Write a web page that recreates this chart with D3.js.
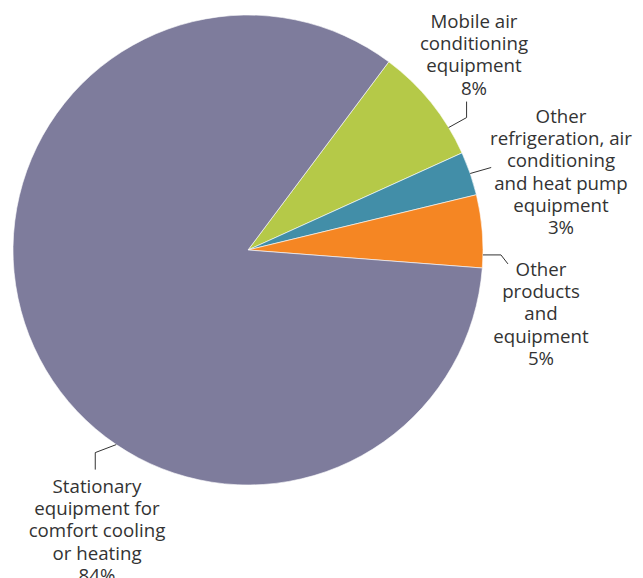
<!DOCTYPE html>
<meta charset="utf-8">
<style>
body { margin: 0; background: #fff; }
text {
  font-family: "Open Sans", sans-serif;
  font-size: 18.7px;
  fill: #333;
}
.leader { fill: none; stroke: #333; stroke-width: 1px; }
</style>
<body>
<script src="https://cdn.jsdelivr.net/npm/d3@7"></script>
<script>
// data
var categories = [
  "Mobile air conditioning equipment",
  "Other refrigeration, air conditioning and heat pump equipment",
  "Other products and equipment",
  "Stationary equipment for comfort cooling or heating"
];
var values = [8, 3, 5, 84];
var labelLines = [
  ["Mobile air", "conditioning", "equipment", "8%"],
  ["Other", "refrigeration, air", "conditioning", "and heat pump", "equipment", "3%"],
  ["Other", "products", "and", "equipment", "5%"],
  ["Stationary", "equipment for", "comfort cooling", "or heating", "84%"]
];
var colors = ["#b5c948", "#428ea8", "#f58623", "#7e7c9c"];

// layout of labels: where the leader leaves the pie (degrees clockwise from top),
// then the bend points relative to that, and where the text block sits
var layout = [
  {angle: 58.6, pts: [[18, -10], [18, -26]], tx: 474, ty: 28},
  {angle: 71, pts: [[21, -6]], tx: 561, ty: 123},
  {angle: 91.2, pts: [[18, 0], [25, 9]], tx: 541, ty: 276},
  {angle: 214.1, pts: [[-21, 8], [-21, 25]], tx: 97, ty: 493}
];

var width = 643, height = 578;
var cx = 248, cy = 250, radius = 235;
var start = 36.8 * Math.PI / 180;

var svg = d3.select("body").append("svg")
  .attr("width", width)
  .attr("height", height);

var pie = d3.pie().sort(null)
  .startAngle(start)
  .endAngle(start + 2 * Math.PI);

var arc = d3.arc().innerRadius(0).outerRadius(radius);

var g = svg.append("g").attr("transform", "translate(" + cx + "," + cy + ")");

g.selectAll("path")
  .data(pie(values))
  .enter()
  .append("path")
  .attr("d", arc)
  .style("fill", function(d, i) { return colors[i]; })
  .style("stroke", "#fff")
  .style("stroke-width", 0.6);

// leader lines
layout.forEach(function(l, i) {
  var a = l.angle * Math.PI / 180;
  var x0 = cx + radius * Math.sin(a), y0 = cy - radius * Math.cos(a);
  var pts = [[x0, y0]].concat(l.pts.map(function(p) { return [x0 + p[0], y0 + p[1]]; }));
  svg.append("path")
    .attr("class", "leader")
    .attr("d", d3.line()(pts));

  var t = svg.append("text")
    .attr("text-anchor", "middle")
    .attr("x", l.tx)
    .attr("y", l.ty);
  labelLines[i].forEach(function(s, k) {
    t.append("tspan")
      .attr("x", l.tx)
      .attr("dy", k == 0 ? 0 : 22.2)
      .text(s);
  });
});
</script>
</body>
